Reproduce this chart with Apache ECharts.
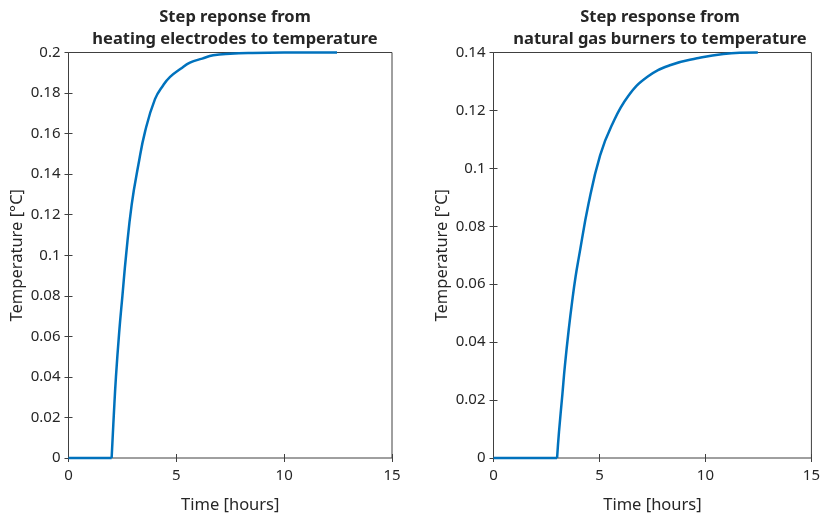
<!DOCTYPE html>
<html>
<head>
<meta charset="utf-8">
<script src="https://cdn.jsdelivr.net/npm/echarts@6/dist/echarts.min.js"></script>
<style>html,body{margin:0;padding:0;background:#fff;}#c{width:823px;height:519px;}</style>
</head>
<body>
<div id="c"></div>
<script>
// Left subplot: heating electrodes -> temperature
const timeLeft = [0, 2, 2.1, 2.2, 2.35, 2.5, 2.67, 2.93, 3.24, 3.55, 4.01, 4.4, 4.71, 5.2, 5.63, 6.2, 6.71, 7.5, 8.5, 10, 12.45];
const tempLeft = [0, 0, 0.021, 0.040, 0.062, 0.080, 0.100, 0.125, 0.1446, 0.161, 0.177, 0.184, 0.188, 0.192, 0.195, 0.197, 0.1986, 0.1994, 0.1998, 0.2, 0.2];
// Right subplot: natural gas burners -> temperature
const timeRight = [0, 3, 3.09, 3.25, 3.37, 3.56, 3.71, 3.87, 4.02, 4.49, 5.03, 5.57, 6.35, 7.28, 8.36, 9.6, 10.85, 12.47];
const tempRight = [0, 0, 0.009, 0.022, 0.032, 0.045, 0.054, 0.0625, 0.069, 0.088, 0.1045, 0.1147, 0.1249, 0.1317, 0.1357, 0.138, 0.1395, 0.14];

const titles = ['Step reponse from\nheating electrodes to temperature', 'Step response from\nnatural gas burners to temperature'];
const xName = 'Time [hours]';
const yName = 'Temperature [°C]';
const xTicks = {min: 0, max: 15, interval: 5};
const yTicksLeft = {min: 0, max: 0.2, interval: 0.02};
const yTicksRight = {min: 0, max: 0.14, interval: 0.02};

const FONT = 'Noto Sans';
const TXT = '#262626';
const AX = '#404040';
const LINE = '#0072BD';

const chart = echarts.init(document.getElementById('c'), null, {renderer: 'canvas'});

function pairs(xs, ys, from, to) {
  const out = [];
  for (let i = from; i < to; i++) out.push([xs[i], ys[i]]);
  return out;
}

const grids = [
  {left: 68.5, top: 52.5, width: 323.5, height: 411, show: true, borderColor: AX, borderWidth: 1, backgroundColor: '#fff'},
  {left: 493.5, top: 52.5, width: 322.5, height: 411, show: true, borderColor: AX, borderWidth: 1, backgroundColor: '#fff'}
];

function mainX(g) {
  return {type: 'value', gridIndex: g, min: xTicks.min, max: xTicks.max, interval: xTicks.interval,
    name: xName, nameLocation: 'middle', nameGap: 39,
    nameTextStyle: {fontFamily: FONT, fontSize: 16.5, color: TXT},
    axisLine: {show: false}, splitLine: {show: false},
    axisTick: {inside: true, length: 4, lineStyle: {color: AX}},
    axisLabel: {fontFamily: FONT, fontSize: 15, color: TXT, margin: 10}};
}
function topX(g) {
  return {type: 'value', gridIndex: g, position: 'top', min: xTicks.min, max: xTicks.max, interval: xTicks.interval,
    axisLine: {show: false}, splitLine: {show: false}, axisLabel: {show: false},
    axisTick: {inside: true, length: 4, lineStyle: {color: AX}}};
}
function mainY(g, t) {
  return {type: 'value', gridIndex: g, min: t.min, max: t.max, interval: t.interval,
    name: yName, nameLocation: 'middle', nameGap: 43,
    nameTextStyle: {fontFamily: FONT, fontSize: 16.5, color: TXT},
    axisLine: {show: false}, splitLine: {show: false},
    axisTick: {inside: true, length: 4, lineStyle: {color: AX}},
    axisLabel: {fontFamily: FONT, fontSize: 15, color: TXT, margin: 8}};
}
function rightY(g, t) {
  return {type: 'value', gridIndex: g, position: 'right', min: t.min, max: t.max, interval: t.interval,
    axisLine: {show: false}, splitLine: {show: false}, axisLabel: {show: false},
    axisTick: {inside: true, length: 4, lineStyle: {color: AX}}};
}

function lineSeries(xi, yi, data, smooth) {
  return {type: 'line', xAxisIndex: xi, yAxisIndex: yi, data: data, showSymbol: false,
    smooth: smooth, lineStyle: {color: LINE, width: 2.5}, clip: false};
}

const option = {
  animation: false,
  backgroundColor: '#fff',
  title: [
    {text: titles[0], left: 230, top: 1, textAlign: 'center',
     textStyle: {fontFamily: FONT, fontSize: 16.5, fontWeight: 'bold', color: TXT, lineHeight: 22}},
    {text: titles[1], left: 655, top: 1, textAlign: 'center',
     textStyle: {fontFamily: FONT, fontSize: 16.5, fontWeight: 'bold', color: TXT, lineHeight: 22}}
  ],
  grid: grids,
  xAxis: [mainX(0), topX(0), mainX(1), topX(1)],
  yAxis: [mainY(0, yTicksLeft), rightY(0, yTicksLeft), mainY(1, yTicksRight), rightY(1, yTicksRight)],
  series: [
    lineSeries(0, 0, pairs(timeLeft, tempLeft, 0, 2), false),
    lineSeries(0, 0, pairs(timeLeft, tempLeft, 1, timeLeft.length), 0.45),
    lineSeries(2, 2, pairs(timeRight, tempRight, 0, 2), false),
    lineSeries(2, 2, pairs(timeRight, tempRight, 1, timeRight.length), 0.45)
  ]
};
chart.setOption(option);
</script>
</body>
</html>
